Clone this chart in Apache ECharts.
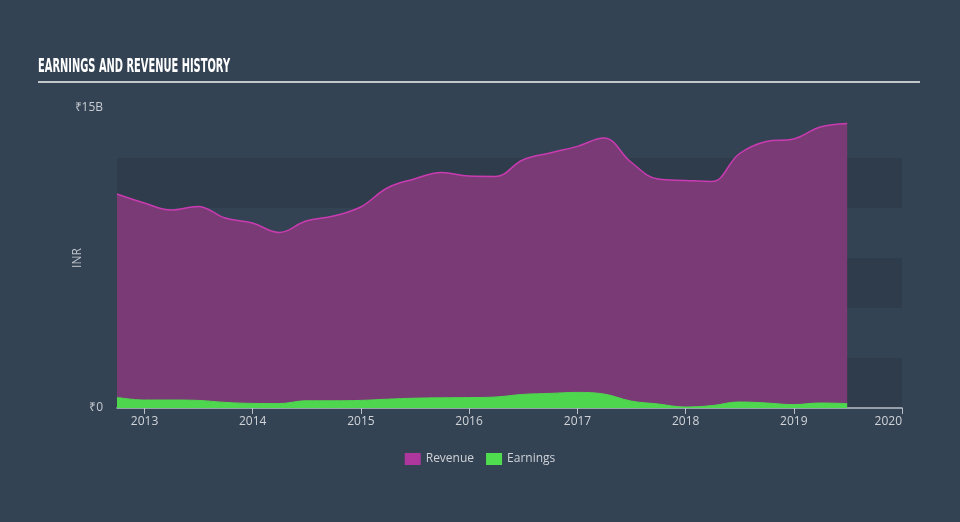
<!DOCTYPE html>
<html>
<head>
<meta charset="utf-8">
<script src="https://cdn.jsdelivr.net/npm/echarts@6/dist/echarts.min.js"></script>
<style>
html,body{margin:0;padding:0;background:#344354;}
#c{width:960px;height:522px;}
</style>
</head>
<body>
<div id="c"></div>
<script>
const quarters = ['2012-09-30','2012-12-31','2013-03-31','2013-06-30','2013-09-30','2013-12-31','2014-03-31','2014-06-30','2014-09-30','2014-12-31','2015-03-31','2015-06-30','2015-09-30','2015-12-31','2016-03-31','2016-06-30','2016-09-30','2016-12-31','2017-03-31','2017-06-30','2017-09-30','2017-12-31','2018-03-31','2018-06-30','2018-09-30','2018-12-31','2019-03-31','2019-06-30'];
// values in billions INR
const revenue = [10.7,10.25,9.9,10.08,9.5,9.25,8.78,9.35,9.6,10.05,11.0,11.45,11.78,11.6,11.58,12.4,12.75,13.08,13.5,12.3,11.45,11.38,11.33,12.7,13.33,13.45,14.05,14.23];
const earnings = [0.53,0.4,0.4,0.38,0.28,0.23,0.22,0.36,0.36,0.38,0.44,0.49,0.51,0.52,0.55,0.68,0.73,0.78,0.7,0.35,0.2,0.05,0.12,0.3,0.25,0.17,0.25,0.22];
const yTickLabels = {0:'₹0', 15:'₹15B'};
const seriesNames = ['Revenue','Earnings'];

const B = 1e9;
const revData = quarters.map((d,i)=>[d, revenue[i]*B]);
const earnData = quarters.map((d,i)=>[d, earnings[i]*B]);
const YEAR = 365*24*3600*1000;

const chart = echarts.init(document.getElementById('c'), null, {renderer:'canvas'});
chart.setOption({
  backgroundColor: '#344354',
  animation: false,
  textStyle: {fontFamily: 'Open Sans'},
  graphic: [
    {type:'text', left:38, top:58, scaleX:0.52,
     style:{text:'EARNINGS AND REVENUE HISTORY', font:'bold 19px "DejaVu Sans"', fill:'#ffffff'}},
    {type:'line', shape:{x1:38,y1:82,x2:920,y2:82}, style:{stroke:'#c3c7cc', lineWidth:2}}
  ],
  legend: {
    data: seriesNames,
    top: 448, left: 'center',
    icon: 'rect', itemWidth: 16, itemHeight: 12, itemGap: 12,
    textStyle: {color:'#cfd3d8', fontSize:12, fontFamily:'Open Sans'}
  },
  grid: {left:117, right:58, top:108, bottom:114, containLabel:false},
  xAxis: {
    type: 'time',
    min: '2012-09-30', max: '2020-01-01',
    minInterval: YEAR, maxInterval: YEAR,
    axisLine: {show:true, lineStyle:{color:'#b9c0c8', width:1.5}},
    axisTick: {show:true, length:6, lineStyle:{color:'#b9c0c8'}},
    axisLabel: {color:'#d0d4d9', fontSize:12, formatter:'{yyyy}', margin:8, showMaxLabel:true, alignMaxLabel:'right'},
    splitLine: {show:false}
  },
  yAxis: {
    type: 'value', min: 0, max: 15*B, interval: 2.5*B,
    name: 'INR', nameLocation: 'middle', nameRotate: 90, nameGap: 33, nameMoveOverlap: false,
    nameTextStyle: {color:'#c0c5cc', fontSize:12},
    axisLine: {show:false}, axisTick: {show:false},
    splitLine: {show:false},
    splitArea: {show:true, areaStyle:{color:['#2f3c4c','rgba(0,0,0,0)']}},
    axisLabel: {color:'#c7ccd2', fontSize:12, margin:14,
      formatter: v => { const k = Math.round(v/B*10)/10; return yTickLabels[k] !== undefined ? yTickLabels[k] : ''; }}
  },
  series: [
    {name:'Revenue', type:'line', data: revData, smooth:0.4, showSymbol:false,
     itemStyle:{color:'#ad379d'}, lineStyle:{color:'#c93bb0', width:1.5},
     areaStyle:{color:'#7a3a76', opacity:1}},
    {name:'Earnings', type:'line', data: earnData, smooth:0.4, showSymbol:false,
     itemStyle:{color:'#4fdc4f'}, lineStyle:{color:'#4fd64f', width:1},
     areaStyle:{color:'#4fd64f', opacity:1}}
  ]
});
</script>
</body>
</html>
